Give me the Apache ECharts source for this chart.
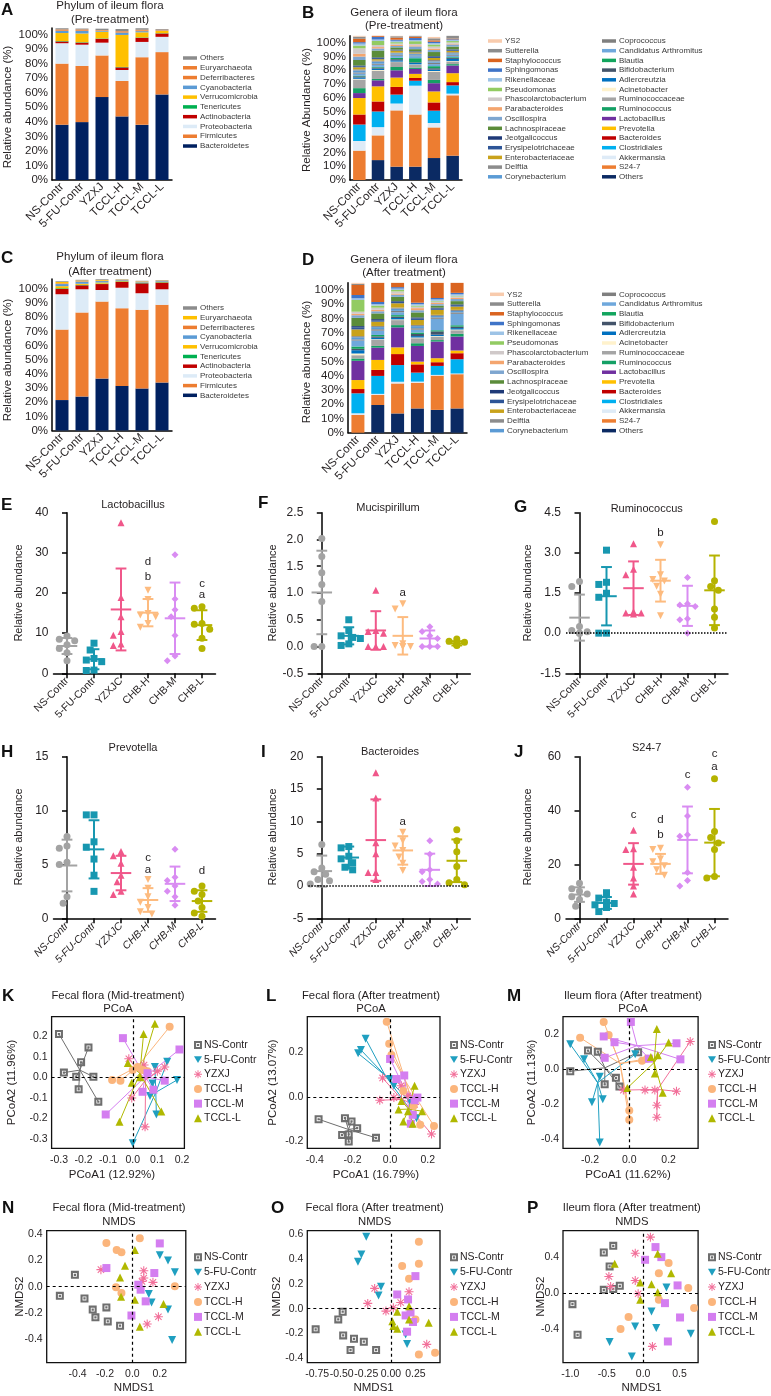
<!DOCTYPE html>
<html><head><meta charset="utf-8">
<script src="https://cdn.jsdelivr.net/npm/echarts@6/dist/echarts.min.js"></script>
<style>
html,body{margin:0;padding:0;background:#fff;}
#root{position:relative;width:771px;height:1396px;overflow:hidden;background:#fff;}
#root>div{position:absolute;left:0;top:0;width:771px;height:1396px;}
</style></head><body><div id="root"></div>
<script>
// ---------------- DATA ----------------
const groupsTCCL = ['NS-Contr','5-FU-Contr','YZXJ','TCCL-H','TCCL-M','TCCL-L'];
const groupsCHB = ['NS-Contr','5-FU-Contr','YZXJC','CHB-H','CHB-M','CHB-L'];

// phylum (stack order bottom -> top)
const phylumNames = ['Bacteroidetes','Firmicutes','Proteobacteria','Actinobacteria','Tenericutes','Verrucomicrobia','Cyanobacteria','Deferribacteres','Euryarchaeota','Others'];
const phylumPre = [
  [38, 39.8, 57, 43.7, 37.9, 58.8],
  [42, 38.6, 28.6, 24.4, 46.5, 29.1],
  [14, 14.6, 8.8, 7.5, 10.5, 10.5],
  [1.2, 1.4, 2.6, 1.8, 2.8, 2.3],
  [0.3, 0.3, 0.3, 0.3, 0.3, 0.2],
  [5.5, 6, 4.6, 22, 3.5, 1.5],
  [1.5, 1.8, 0.5, 1.6, 0.8, 0.3],
  [0.5, 0.5, 0.3, 0.5, 0.5, 0.3],
  [0.5, 0.5, 0.3, 0.5, 0.5, 0.3],
  [0.8, 0.6, 1, 1.5, 1, 0.5]
];
const phylumPost = [
  [21.5, 24, 36.7, 31.5, 29.7, 33.9],
  [49.8, 59.4, 54.4, 54.9, 55.6, 54.9],
  [25, 16.4, 8.2, 14.5, 11.7, 11],
  [3.7, 2.8, 4.2, 4.2, 7, 4.7],
  [0.5, 0.3, 0.3, 0.3, 0.3, 0.3],
  [1.5, 0.8, 0.8, 0.3, 0.3, 0.3],
  [1.5, 1.5, 1, 0.5, 0.5, 0.5],
  [0.5, 0.3, 0.3, 0.2, 0.2, 0.2],
  [1, 0.5, 0.5, 0.2, 0.2, 0.2],
  [0.5, 0.5, 0.5, 0.3, 0.3, 0.3]
];

// genera (stack order bottom -> top)
const genusNames = ['Others','S24-7','Akkermansia','Clostridiales','Bacteroides','Prevotella','Lactobacillus','Ruminococcus','Ruminococcaceae','Acinetobacter','Adlercreutzia','Bifidobacterium','Blautia','Candidatus Arthromitus','Coprococcus','Corynebacterium','Delftia','Enterobacteriaceae','Erysipelotrichaceae','Jeotgalicoccus','Lachnospiraceae','Oscillospira','Parabacteroides','Phascolarctobacterium','Pseudomonas','Rikenellaceae','Sphingomonas','Staphylococcus','Sutterella','YS2'];
const genusPre = [
  [0, 14.5, 9.7, 9.7, 16, 17.7],
  [21.4, 18, 41, 38, 22.3, 44],
  [7, 6, 5, 21, 3.2, 1.2],
  [12, 11.4, 6.5, 3.6, 9, 6],
  [7.3, 7.3, 5.6, 2, 6, 2.4],
  [12, 11, 6.8, 3, 8, 6.5],
  [3.6, 4.4, 5.3, 3.6, 6, 5.6],
  [3.6, 1, 2.4, 1, 2.4, 1],
  [6.3, 6, 3.6, 2, 6, 2],
  [0.5, 0.5, 0.3, 0.3, 0.5, 0.3],
  [1, 1, 1, 1, 1, 1.5],
  [0.8, 0.8, 0.8, 0.5, 1, 0.8],
  [0.5, 0.5, 1, 3, 1.5, 0.5],
  [1.5, 1.5, 1.5, 1.5, 1.5, 1],
  [0.8, 0.8, 0.8, 0.5, 1, 0.8],
  [1.5, 1.5, 1, 1, 1, 1],
  [0.8, 0.8, 0.5, 0.5, 1, 0.8],
  [1.5, 1, 1.5, 0.8, 1.5, 1],
  [0.8, 0.8, 0.5, 0.5, 0.8, 0.8],
  [0.5, 0.5, 0.3, 0.3, 0.5, 0.3],
  [4, 5, 1.5, 1.5, 3, 2],
  [2.5, 1.5, 1, 2, 1.5, 1.5],
  [2, 1, 0.8, 0.8, 1, 0.5],
  [4, 1.5, 1, 1, 1.5, 1],
  [2, 3, 1, 2, 1.5, 1],
  [1.5, 1, 1, 0.8, 1, 0.8],
  [1, 2, 0.8, 1.5, 1, 0.5],
  [2.5, 1.5, 1.5, 1, 1, 0.5],
  [1.5, 0.8, 1, 0.8, 1.5, 2.5],
  [1.5, 0.8, 1, 1.5, 1, 0.5]
];
const genusPost = [
  [0, 19.4, 13.5, 17, 16, 17],
  [12.4, 7, 21, 18, 24, 24],
  [1.2, 0.8, 1.2, 0.8, 0.5, 0.5],
  [14, 12.6, 11.7, 6.3, 6.3, 10],
  [3, 4.2, 7.7, 5.8, 2.6, 4.2],
  [6.3, 7, 4.7, 1.9, 2.8, 1.9],
  [13.5, 8.6, 14, 11, 11.7, 9.8],
  [1.6, 1.2, 1.6, 1.9, 1, 1.9],
  [2.3, 4.2, 3.5, 3.5, 2.3, 2.5],
  [1.2, 0.5, 0.5, 0.5, 0.5, 0.5],
  [2.3, 1, 1, 1, 1, 1],
  [1, 1, 1, 1.5, 2.3, 1],
  [1.6, 1, 1, 1, 0.8, 1],
  [4.2, 3, 2, 2, 8, 8],
  [0.8, 1, 1, 1, 1, 1],
  [1.5, 1.5, 1.5, 1.5, 1, 1],
  [0.8, 0.8, 0.8, 0.8, 0.8, 0.8],
  [4.7, 3, 3, 3.5, 3.5, 2.3],
  [1.5, 1, 1, 1, 1, 1],
  [0.8, 0.8, 0.5, 0.8, 0.5, 0.5],
  [5.8, 4, 3, 3.5, 1.5, 2.3],
  [1.8, 1.5, 1.5, 1.5, 1, 1.5],
  [1, 1, 0.8, 1.5, 0.8, 0.8],
  [1.5, 1.5, 1.5, 1, 1, 1],
  [8.2, 1.5, 1, 0.8, 0.5, 0.5],
  [1.2, 1, 1, 1, 1, 1],
  [2.3, 1.5, 1, 1, 1, 1],
  [7, 14, 3.5, 14, 11, 7],
  [0.8, 0.8, 0.8, 0.8, 0.8, 0.8],
  [1.6, 0.8, 0.5, 0.8, 0.5, 0.5]
];

// dot plots: individual values per group, mean, sd, significance letters [group, y, letter]
const lactoPts = [[9.3,8.5,8.1,7.1,6.2,5.1,3.1],[7.5,5.8,3.7,3.3,2.9,0.8,0.7],[37.5,18.9,14.1,10.4,9.5,7.3,6.9],[20.7,18.4,14.9,14.5,14.1,12.4,11.5],[29.5,18.5,15.8,14.1,9.4,4.3,3.1],[16.6,16.2,12.4,12.2,11.0,8.7,6.2]];
const lactoMean = [6.8,3.5,15.9,15.1,13.7,12.0];
const lactoSd = [2.0,2.5,10.2,3.4,8.9,3.7];
const lactoSig = [[3,27.8,'d'],[3,24.1,'b'],[5,22.4,'c'],[5,19.5,'a']];

const mucPts = [[2.02,1.68,1.38,1.16,0.84,0,0],[0.5,0.3,0.2,0.17,0.15,0.05,0.02],[1.05,0.3,0.28,0.25,0,0,0],[0.8,0.7,0.05,0.02,0,0,0],[0.37,0.28,0.2,0.15,0,0,0],[0.14,0.1,0.08,0.06,0.04,0.03,0.02]];
const mucMean = [1.01,0.2,0.3,0.2,0.15,0.06];
const mucSd = [0.78,0.16,0.36,0.35,0.15,0.04];
const mucSig = [[3,1.0,'a']];

const rumPts = [[1.93,1.74,0.25,0.1,0.05,0,0],[3.1,1.9,1.82,1.49,1.34,0,0],[3.34,2.39,2.18,0.8,0.75,0.75,0.72],[3.3,2.18,2.0,1.95,1.75,1.45,0.65],[2.08,1.1,1.05,1.0,0.54,0.5,0],[4.17,1.96,1.74,1.6,0.9,0.59,0.19]];
const rumMean = [0.58,1.38,1.68,1.96,1.02,1.6];
const rumSd = [0.86,1.09,1.0,0.78,0.75,1.3];
const rumSig = [[3,3.76,'b']];

const prevPts = [[7.6,6.7,6.5,5.2,5.0,2.0,1.4],[9.6,9.6,7.1,6.6,5.5,4.0,2.5],[6.2,5.8,5.1,4.0,3.4,2.5,2.2],[3.6,2.8,2.0,1.5,1.0,0.6,0.4],[6.4,3.8,3.5,3.0,2.5,2.0,1.2],[3.0,2.5,2.2,1.6,1.0,0.5,0.2]];
const prevMean = [4.9,6.4,4.2,1.7,3.2,1.6];
const prevSd = [2.4,2.7,1.6,1.1,1.6,1.0];
const prevSig = [[3,5.6,'c'],[3,4.5,'a'],[5,4.4,'d']];

const bactPts = [[6.4,2.8,2.2,1.8,1.0,0.8,0.3],[6.1,5.9,4.6,4.2,3.6,2.9,2.5],[17.5,13.6,6.7,5.0,2.1,2.1,1.0],[8.3,7.0,6.2,5.5,4.5,3.5,2.4],[7.0,4.9,2.5,2.2,1.0,0.7,0.3],[8.7,7.0,5.3,3.0,1.0,0.5,0.2]];
const bactMean = [2.3,4.4,7.1,5.5,2.5,3.9];
const bactSd = [2.4,1.7,6.3,2.2,2.5,3.3];
const bactSig = [[3,10.0,'a']];

const s24Pts = [[13,11,10,9,8,7,4.5],[9.5,7.5,6,5.5,5,4,2.5],[32.7,25.8,25.5,19,15,12,9],[26,25.5,22,21,19.5,18,16],[48.7,38,31,30.5,17,14,12],[51.8,32.2,30,28,25.5,15.5,15]];
const s24Mean = [8.8,5.7,20.2,20.2,29.1,28.1];
const s24Sd = [2.7,2.2,7.7,3.7,12.4,12.5];
const s24Sig = [[2,38.6,'c'],[3,36.5,'d'],[3,31,'b'],[4,53.3,'c'],[5,61,'c'],[5,56.1,'a']];

// ordination scores [x, y] per group
const kPts = [
 [[-0.30,0.21],[-0.28,0.023],[-0.21,0.073],[-0.18,0.145],[-0.23,0.003],[-0.16,0.003],[-0.22,-0.058],[-0.14,-0.118]],
 [[0.09,0.05],[0.14,0.075],[0.18,-0.013],[0.07,-0.09],[0.096,-0.18],[0.0,-0.32],[0.08,-0.03]],
 [[-0.016,0.09],[0.046,0.06],[0.13,0.05],[-0.004,-0.1],[0.05,-0.24],[0.10,0.03],[0.06,0.02]],
 [[0.15,0.245],[-0.084,-0.013],[-0.05,-0.016],[0.0,0.035],[0.04,0.035],[0.06,0.03],[0.02,0.05]],
 [[-0.04,0.19],[-0.11,-0.18],[0.04,-0.07],[0.084,-0.06],[0.13,-0.016],[0.19,0.135],[0.06,0.02]],
 [[0.09,0.26],[0.044,0.21],[-0.02,0.07],[-0.004,-0.026],[-0.054,-0.215],[0.116,-0.165],[0.03,0.0]]
];
const lPts = [
 [[-0.38,-0.10],[-0.24,-0.095],[-0.205,-0.11],[-0.175,-0.14],[-0.255,-0.17],[-0.22,-0.168],[-0.075,-0.183],[-0.22,-0.2]],
 [[-0.13,0.26],[-0.17,0.195],[-0.155,0.21],[0.0,0.08],[0.11,-0.026],[0.14,-0.095],[0.02,0.05]],
 [[-0.04,0.085],[-0.055,-0.015],[0.02,-0.003],[0.058,0.05],[0.22,-0.166],[0.13,-0.034],[0.095,0.005]],
 [[-0.018,0.336],[-0.005,0.238],[0.007,0.188],[0.233,-0.13],[0.16,-0.125],[0.125,-0.04],[0.07,0.027]],
 [[0.0,0.17],[0.033,0.08],[0.075,0.096],[0.145,-0.003],[0.13,-0.015],[0.12,-0.08],[0.11,-0.12]],
 [[0.13,0.05],[0.06,-0.018],[0.045,-0.056],[0.07,-0.11],[0.12,-0.12],[0.17,-0.064],[0.095,-0.064]]
];
const mPts = [
 [[-0.3,-0.012],[-0.21,0.106],[-0.16,0.1],[-0.125,-0.087],[-0.068,-0.05],[-0.05,-0.1],[0.045,0.096]],
 [[-0.3,0.142],[-0.23,0.056],[-0.15,-0.044],[-0.19,-0.19],[-0.135,-0.173],[0.03,0.085],[-0.15,-0.42]],
 [[0.31,0.158],[-0.03,-0.12],[0.08,-0.12],[0.13,-0.12],[0.24,-0.127],[0.14,-0.207],[0.14,-0.275]],
 [[-0.25,0.18],[-0.13,0.27],[-0.105,0.196],[0.0,-0.237],[0.0,-0.29],[0.065,0.048],[0.09,0.06]],
 [[-0.13,0.187],[-0.075,0.154],[-0.125,0.065],[0.008,0.27],[0.1,0.06],[0.24,0.148],[0.26,0.056]],
 [[0.14,0.23],[0.2,0.152],[0.145,0.08],[0.13,-0.025],[0.17,-0.135],[-0.01,-0.108],[0.11,0.07]]
];
const nPts = [
 [[-0.53,-0.07],[-0.42,0.09],[-0.35,-0.09],[-0.29,-0.175],[-0.27,-0.234],[-0.19,-0.158],[-0.18,-0.265],[-0.09,-0.298]],
 [[0.2,0.24],[0.26,0.2],[0.31,0.11],[0.14,-0.12],[0.26,-0.175],[0.29,-0.407],[0.12,-0.056]],
 [[-0.23,0.13],[0.083,0.122],[0.083,0.066],[0.15,0.033],[0.19,-0.229],[0.108,-0.285],[0.07,0.04]],
 [[-0.19,0.333],[-0.115,0.28],[-0.08,0.262],[0.054,0.369],[-0.12,-0.005],[-0.08,-0.048],[0.31,0.003]],
 [[-0.19,0.142],[0.2,0.33],[0.16,0.104],[0.043,0.015],[0.06,-0.023],[0.097,-0.112],[-0.007,-0.22]],
 [[0.018,0.28],[-0.054,0.16],[-0.09,0.07],[-0.083,-0.076],[0.018,-0.1],[0.227,-0.132],[0.054,-0.305]]
];
const oPts = [
 [[-0.765,-0.166],[-0.535,-0.086],[-0.49,-0.024],[-0.485,-0.215],[-0.375,-0.242],[-0.275,-0.266],[-0.41,-0.333],[-0.15,-0.333]],
 [[-0.25,0.58],[-0.3,0.437],[-0.335,0.379],[-0.1,0.177],[-0.125,0.107],[0.15,-0.207],[0.165,-0.285]],
 [[-0.165,0.164],[-0.235,0.043],[-0.05,-0.019],[0.025,0.008],[0.185,0.137],[0.365,-0.287],[0.1,0.05]],
 [[0.285,0.54],[0.285,0.362],[0.115,0.344],[0.185,0.242],[0.25,-0.086],[0.285,-0.368],[0.45,-0.354]],
 [[0.25,0.263],[0.065,0.115],[0.175,0.075],[0.15,-0.054],[0.2,-0.03],[0.225,-0.107],[0.165,-0.185]],
 [[0.185,0.021],[0.065,-0.024],[0.015,-0.1],[0.065,-0.161],[0.185,-0.086],[0.385,-0.113],[0.025,-0.14]]
];
const pPts = [
 [[-0.97,-0.123],[-0.9,-0.465],[-0.54,0.454],[-0.41,0.528],[-0.46,0.298],[-0.54,0.037],[-0.41,0.045],[-0.32,0.082]],
 [[-0.46,-0.547],[-0.155,-0.707],[-0.11,-0.372],[0.115,-0.205],[0.18,-0.39],[0.32,0.063],[0.655,-0.454]],
 [[0.1,0.625],[-0.108,0.446],[-0.47,0.186],[-0.446,0.074],[-0.108,0.141],[-0.068,-0.007],[0.128,-0.595]],
 [[0.35,0.335],[0.216,0.223],[0.216,-0.074],[0.62,0.056],[0.7,-0.167],[-0.2,-0.268],[-0.31,-0.4]],
 [[0.17,0.514],[0.25,0.402],[0.027,0.372],[0.473,0.086],[0.3,-0.112],[0.507,-0.272],[0.34,-0.54]],
 [[-0.39,0.327],[0.2,0.44],[0.385,0.223],[-0.04,0.119],[0.115,0.1],[0.2,0.011],[-0.04,-0.074]]
];

// ---------------- STYLE ----------------
const FONT = "'Liberation Sans', Arial, sans-serif";
const INK = '#231f20';
const phylumColorsPre = ['#002060','#ED7D31','#DDEBF7','#C00000','#00B050','#FFC000','#5B9BD5','#ED7D31','#ED7D31','#8C8C8C'];
const phylumColorsPost = ['#002060','#ED7D31','#DDEBF7','#C00000','#00B050','#FFC000','#5B9BD5','#ED7D31','#FFC000','#8C8C8C'];
const genusColors = ['#0B2A63','#ED7D31','#DEEBF7','#00B0F0','#C00000','#FFC000','#7030A0','#14A065','#A5A5A5','#FFF2CC','#0070C0','#44546A','#12A55E','#6FA8DC','#7F7F7F','#5B9BD5','#8C8C8C','#C9A21B','#2E5597','#1F3A78','#5B8C3A','#7EA6D0','#F4A56E','#D0C9C9','#92CB62','#9DC3E6','#3F74C8','#DA6420','#8C8C8C','#F8CBAD'];
const dotColors = ['#a3a3a3','#1797b0','#f0578a','#fdbb7f','#d98cf2','#b5b300'];
const ordColors = ['#6e6e6e','#1f9fc0','#f2709a','#fbb57c','#d47ef0','#b0b800'];
const INV_TRI = 'path://M0,0L10,0L5,8.66Z';
const ASTER = 'path://M-1,-0.12L1,-0.12L1,0.12L-1,0.12Z M-0.12,-1L0.12,-1L0.12,1L-0.12,1Z M-0.79,-0.62L-0.62,-0.79L0.79,0.62L0.62,0.79Z M0.62,-0.79L0.79,-0.62L-0.62,0.79L-0.79,0.62Z';
const NSBOX = 'path://M0,0L10,0L10,10L0,10Z M2.6,2.6L2.6,7.4L7.4,7.4L7.4,2.6Z M3.6,3.6L6.4,3.6L6.4,6.4L3.6,6.4Z';
const dotSymbols = ['circle','rect','triangle',INV_TRI,'diamond','circle'];
const ordSymbols = [NSBOX, INV_TRI, ASTER, 'circle', 'rect', 'triangle'];

// ---------------- HELPERS ----------------
const root = document.getElementById('root');
function mk(){ const d=document.createElement('div'); root.appendChild(d); return echarts.init(d,null,{renderer:'canvas'}); }
function txt(x,y,s,o){ o=o||{}; const al=o.align||'center', va=o.valign||'middle';
  return {type:'text', x:x, y:y, rotation:o.rot||0, silent:true, z:100,
    style:{text:s, fill:o.color||INK, fontSize:o.size||11.5, fontFamily:o.family||FONT, fontWeight:o.weight||'normal', fontStyle:o.style||'normal',
      align:al, verticalAlign:va, textAlign:al, textVerticalAlign:va}}; }
function letter(x,y,s){ return txt(x,y,s,{size:17,weight:'bold',align:'left',color:'#111'}); }

function stackPanel(c){
  const ch = mk();
  const pxPer = (c.y0 - c.y100)/100;
  const top = c.y0 - pxPer*c.ymax;
  const series = c.names.map((n,i)=>({name:n, type:'bar', stack:'s', data:c.data[i], barWidth:c.barW,
    itemStyle:{color:c.colors[i]}, emphasis:{disabled:true}}));
  const legends = c.legends.map(L=>({orient:'vertical', left:L.x, top:L.y - c.pitch/2, padding:0, itemGap:0,
    itemWidth:14, itemHeight:3.5, icon:'rect', selectedMode:false, data:L.names,
    textStyle:{fontSize:c.lfs, fontFamily:FONT, color:'#3a3a3a', lineHeight:c.pitch, padding:[0,0,0,-2]}}));
  const ticks=[]; for(let v=0; v<=100; v+=10) ticks.push(v);
  ch.setOption({animation:false,
    grid:{left:c.gl, width:c.gr-c.gl, top:top, height:c.y0-top},
    xAxis:{type:'category', data:groupsTCCL, axisLine:{lineStyle:{color:'#000',width:1.5}}, axisTick:{show:false},
      axisLabel:{rotate:45, interval:0, fontSize:11.5, fontFamily:FONT, color:INK, margin:5}},
    yAxis:{type:'value', min:0, max:c.ymax, splitLine:{show:false}, axisTick:{show:false},
      axisLine:{show:true, lineStyle:{color:'#000',width:1.5}},
      axisLabel:{customValues:ticks, formatter:'{value}%', fontSize:11.5, fontFamily:FONT, color:INK, margin:4}},
    legend:legends, series:series,
    graphic:c.texts});
}

function swarm(vals, gi, pxPerUnit, catW, s){
  const order = vals.map((v,i)=>i).sort((a,b)=>vals[b]-vals[a]);
  const placed=[]; const out=[];
  order.forEach(i=>{
    const y = vals[i]*pxPerUnit;
    const cands=[0,-1,1,-2,2,-3,3];
    let off=0;
    for(const k of cands){ const x=k*s*0.55; let ok=true;
      for(const p of placed){ if(Math.hypot(p[0]-x,p[1]-y) < s*1.0){ ok=false; break; } }
      if(ok){ off=x; break; } }
    placed.push([off,y]);
    out.push([gi + off/catW, vals[i]]);
  });
  return out;
}

function dotPanel(c){
  const ch = mk();
  const catW = (c.gr-c.gl)/6;
  const pyu = (c.gb-c.gt)/(c.ymax-c.ymin);
  const S = 7;
  const series = c.pts.map((vals,gi)=>({type:'scatter', data:swarm(vals,gi,pyu,catW,S), symbol:dotSymbols[gi], symbolSize:S,
    itemStyle:{color:dotColors[gi], opacity:1}, z:2, emphasis:{disabled:true}, silent:true}));
  const err = {type:'custom', z:3, silent:true, clip:false,
    data:c.mean.map((m,i)=>[i,m,c.sd[i]]), encode:{x:0,y:1},
    renderItem:function(p,api){ const gi=api.value(0), m=api.value(1), sd=api.value(2);
      const c0=api.coord([gi,m]), t=api.coord([gi,m+sd]), b=api.coord([gi,m-sd]); const cw=api.size([1,0])[0];
      const st={stroke:dotColors[gi], lineWidth:2, fill:null};
      return {type:'group', children:[
        {type:'line', shape:{x1:c0[0]-cw*0.38,y1:c0[1],x2:c0[0]+cw*0.38,y2:c0[1]}, style:st},
        {type:'line', shape:{x1:c0[0],y1:t[1],x2:c0[0],y2:b[1]}, style:st},
        {type:'line', shape:{x1:c0[0]-cw*0.2,y1:t[1],x2:c0[0]+cw*0.2,y2:t[1]}, style:st},
        {type:'line', shape:{x1:c0[0]-cw*0.2,y1:b[1],x2:c0[0]+cw*0.2,y2:b[1]}, style:st}]}; }};
  if(c.zero){ err.markLine={silent:true, symbol:'none', label:{show:false}, lineStyle:{type:'dotted', color:'#000', width:1.5}, data:[{yAxis:0}]}; }
  const sig = {type:'custom', z:4, silent:true, clip:false, data:c.sig.map(s=>[s[0],s[1]]), encode:{x:0,y:1},
    renderItem:function(p,api){ const pt=api.coord([api.value(0),api.value(1)]);
      return {type:'text', x:pt[0], y:pt[1], style:{text:c.sig[p.dataIndex][2], fill:INK, fontSize:11.5, fontFamily:FONT, align:'center', verticalAlign:'middle', textAlign:'center', textVerticalAlign:'middle'}}; }};
  const idx=[0,1,2,3,4,5];
  ch.setOption({animation:false,
    grid:{left:c.gl, width:c.gr-c.gl, top:c.gt, height:c.gb-c.gt},
    xAxis:{type:'value', min:-0.5, max:5.5, splitLine:{show:false},
      axisLine:{onZero:false, lineStyle:{color:'#000',width:1.5}},
      axisTick:{customValues:idx, length:5, lineStyle:{color:'#000',width:1.5}},
      axisLabel:{customValues:idx, formatter:v=>groupsCHB[Math.round(v)], rotate:45, fontSize:10.5, fontFamily:FONT, color:INK, margin:6, fontStyle:c.italic?'italic':'normal'}},
    yAxis:{type:'value', min:c.ymin, max:c.ymax, interval:c.yint, splitLine:{show:false},
      axisLine:{show:true, lineStyle:{color:'#000',width:1.5}},
      axisTick:{show:true, length:5, lineStyle:{color:'#000',width:1.5}},
      axisLabel:{fontSize:12, fontFamily:FONT, color:INK, margin:5, formatter:c.yfmt||null}},
    series: series.concat([err, sig]),
    graphic:c.texts});
}

function ordPanel(c){
  const ch = mk();
  const series=[];
  if(c.spider){
    c.pts.forEach((pts,gi)=>{ const cx=pts.reduce((a,p)=>a+p[0],0)/pts.length, cy=pts.reduce((a,p)=>a+p[1],0)/pts.length;
      series.push({type:'lines', coordinateSystem:'cartesian2d', silent:true, z:1,
        data:pts.map(p=>({coords:[p,[cx,cy]]})), lineStyle:{color:ordColors[gi], width:1, opacity:1}}); });
  }
  c.pts.forEach((pts,gi)=>{ series.push({type:'scatter', name:groupsTCCL[gi], data:pts, symbol:ordSymbols[gi], symbolSize: gi===2?9:8,
    itemStyle:{color:ordColors[gi], opacity:1}, z:3, silent:true}); });
  series.push({type:'scatter', data:[], silent:true, markLine:{silent:true, symbol:'none', label:{show:false}, animation:false,
    lineStyle:{type:[3,3], color:'#000', width:1.2}, data:[{xAxis:0},{yAxis:0}]}});
  ch.setOption({animation:false,
    grid:{left:c.gl, width:c.gr-c.gl, top:c.gt, height:c.gb-c.gt, show:true, borderColor:'#111', borderWidth:1.3, backgroundColor:'transparent'},
    xAxis:{type:'value', min:c.xmin, max:c.xmax, splitLine:{show:false}, axisLine:{show:false}, axisTick:{show:false},
      axisLabel:{customValues:c.xt, formatter:c.xfmt||(v=>v.toFixed(1)), fontSize:10.5, fontFamily:FONT, color:INK, margin:6}},
    yAxis:{type:'value', min:c.ymin, max:c.ymax, splitLine:{show:false}, axisLine:{show:false}, axisTick:{show:false},
      axisLabel:{customValues:c.yt, formatter:v=>v.toFixed(1), fontSize:10.5, fontFamily:FONT, color:INK, margin:4}},
    legend:{orient:'vertical', left:c.lx, top:c.ly - c.lp/2, padding:0, itemGap:0, itemWidth:8, itemHeight:8, selectedMode:false,
      data:groupsTCCL, textStyle:{fontSize:10.5, fontFamily:FONT, color:INK, lineHeight:c.lp, padding:[0,0,0,-3]}},
    series:series, graphic:c.texts});
}

// ---------------- PANELS ----------------
stackPanel({gl:52, gr:172, y0:180, y100:34.5, ymax:104.5, barW:13, names:phylumNames, colors:phylumColorsPre, data:phylumPre,
  pitch:9.78, lfs:8, legends:[{x:183, y:58, names:phylumNames.slice().reverse()}],
  texts:[letter(1,10,'A'), txt(110,6,'Phylum of ileum flora'), txt(110,19.5,'(Pre-treatment)'),
    txt(8,107,'Relative abundance (%)',{rot:Math.PI/2})]});

stackPanel({gl:350, gr:462, y0:180, y100:42.7, ymax:105, barW:12.5, names:genusNames, colors:genusColors, data:genusPre,
  pitch:9.7, lfs:8, legends:[{x:488, y:41, names:genusNames.slice(15).reverse()},{x:602, y:41, names:genusNames.slice(0,15).reverse()}],
  texts:[letter(302,13,'B'), txt(404,12.7,'Genera of ileum flora'), txt(404,25.5,'(Pre-treatment)'),
    txt(307,110,'Relative Abundance (%)',{rot:Math.PI/2})]});

stackPanel({gl:52, gr:172, y0:430.5, y100:289, ymax:107, barW:13, names:phylumNames, colors:phylumColorsPost, data:phylumPost,
  pitch:9.7, lfs:8, legends:[{x:183, y:308, names:phylumNames.slice().reverse()}],
  texts:[letter(1,258,'C'), txt(110,257.3,'Phylum of ileum flora'), txt(110,271.7,'(After treatment)'),
    txt(8,360,'Relative abundance (%)',{rot:Math.PI/2})]});

stackPanel({gl:348, gr:467, y0:432.7, y100:290, ymax:105, barW:13, names:genusNames, colors:genusColors, data:genusPost,
  pitch:9.74, lfs:8, legends:[{x:490, y:294.3, names:genusNames.slice(15).reverse()},{x:602, y:294.3, names:genusNames.slice(0,15).reverse()}],
  texts:[letter(302,260,'D'), txt(404,260,'Genera of ileum flora'), txt(404,273.3,'(After treatment)'),
    txt(307,362,'Relative abundance (%)',{rot:Math.PI/2})]});

const E_T=512.7, E_B=673.3, H_T=756.7, H_B=918.3;
dotPanel({gl:53.5, gr:215.5, gt:E_T, gb:E_B, ymin:0, ymax:40, yint:10, pts:lactoPts, mean:lactoMean, sd:lactoSd, sig:lactoSig,
  texts:[letter(1,505,'E'), txt(133,505,'Lactobacillus',{size:11}), txt(19,593,'Relative abundance',{rot:Math.PI/2,size:11})]});
dotPanel({gl:308.3, gr:470.3, gt:E_T, gb:E_B, ymin:-0.5, ymax:2.5, yint:0.5, pts:mucPts, mean:mucMean, sd:mucSd, sig:mucSig, yfmt:v=>v.toFixed(1),
  texts:[letter(258,503,'F'), txt(388,508,'Mucispirillum',{size:11}), txt(273,593,'Relative abundance',{rot:Math.PI/2,size:11})]});
dotPanel({gl:566, gr:728, gt:E_T, gb:E_B, ymin:-1.5, ymax:4.5, yint:1.5, pts:rumPts, mean:rumMean, sd:rumSd, sig:rumSig, zero:true, yfmt:v=>v.toFixed(1),
  texts:[letter(514,507,'G'), txt(646.7,509,'Ruminococcus',{size:11}), txt(528,593,'Relative abundance',{rot:Math.PI/2,size:11})]});
dotPanel({gl:53.5, gr:215.5, gt:H_T, gb:H_B, ymin:0, ymax:15, yint:5, pts:prevPts, mean:prevMean, sd:prevSd, sig:prevSig, italic:true,
  texts:[letter(1,752,'H'), txt(133,748,'Prevotella',{size:11}), txt(19,837,'Relative abundance',{rot:Math.PI/2,size:11})]});
dotPanel({gl:308.3, gr:470.3, gt:H_T, gb:H_B, ymin:-5, ymax:20, yint:5, pts:bactPts, mean:bactMean, sd:bactSd, sig:bactSig, zero:true, italic:true,
  texts:[letter(261,752,'I'), txt(390,752,'Bacteroides',{size:11}), txt(273,837,'Relative abundance',{rot:Math.PI/2,size:11})]});
dotPanel({gl:566, gr:728, gt:H_T, gb:H_B, ymin:0, ymax:60, yint:20, pts:s24Pts, mean:s24Mean, sd:s24Sd, sig:s24Sig, italic:true,
  texts:[letter(514,752,'J'), txt(646.7,748,'S24-7',{size:11}), txt(528,837,'Relative abundance',{rot:Math.PI/2,size:11})]});

const K_T=1016.7, K_B=1148.3, N_T=1230.7, N_B=1362.7;
function ordTexts(L, lx, cx, ty, title, sub, yname, ynx, xname, xnx, xny, cy){
  return [letter(lx, ty, L), txt(cx, ty, title,{size:11.3}), txt(cx, ty+13.3, sub,{size:11.3}),
    txt(ynx, cy, yname, {rot:Math.PI/2, size:11.5}), txt(xnx, xny, xname, {size:11.5})];
}
ordPanel({gl:51.6, gr:184.4, gt:K_T, gb:K_B, xmin:-0.33, xmax:0.21, ymin:-0.344, ymax:0.294,
  xt:[-0.3,-0.2,-0.1,0,0.1,0.2], yt:[-0.3,-0.2,-0.1,0,0.1,0.2], pts:kPts, spider:true, lx:194, ly:1045, lp:14.66,
  texts:ordTexts('K',2,118,996,'Fecal flora (Mid-treatment)','PCoA','PCoA2 (11.96%)',12,'PCoA1 (12.92%)',112,1175,1082.5)});
ordPanel({gl:307.3, gr:440, gt:K_T, gb:K_B, xmin:-0.44, xmax:0.265, ymin:-0.23, ymax:0.359,
  xt:[-0.4,-0.2,0,0.2], yt:[-0.2,0,0.2], pts:lPts, spider:true, lx:450, ly:1045, lp:14.66,
  texts:ordTexts('L',266,371,996,'Fecal flora (After treatment)','PCoA','PCoA2 (13.07%)',273,'PCoA1 (16.79%)',376,1175,1082.5)});
ordPanel({gl:563, gr:698.1, gt:K_T, gb:K_B, xmin:-0.337, xmax:0.35, ymin:-0.453, ymax:0.30,
  xt:[-0.2,0,0.2], yt:[-0.4,-0.2,0,0.2], pts:mPts, spider:true, lx:708, ly:1045, lp:14.66,
  texts:ordTexts('M',507,633,996,'Ileum flora (After treatment)','PCoA','PCoA2 (11.13%)',532,'PCoA1 (11.62%)',628,1175,1082.5)});
ordPanel({gl:46.7, gr:185.8, gt:N_T, gb:N_B, xmin:-0.626, xmax:0.39, ymin:-0.58, ymax:0.427,
  xt:[-0.4,-0.2,0,0.2], yt:[-0.4,-0.2,0,0.2,0.4], pts:nPts, spider:false, lx:194, ly:1257.3, lp:14.9,
  texts:ordTexts('N',2,119,1208.3,'Fecal flora (Mid-treatment)','NMDS','NMDS2',20,'NMDS1',134,1388,1296.7)});
ordPanel({gl:307.3, gr:440, gt:N_T, gb:N_B, xmin:-0.85, xmax:0.5, ymin:-0.435, ymax:0.629,
  xt:[-0.75,-0.5,-0.25,0,0.25], xfmt:v=>v.toFixed(2), yt:[-0.4,-0.2,0,0.2,0.4,0.6], pts:oPts, spider:false, lx:450, ly:1257.3, lp:14.9,
  texts:ordTexts('O',271,374.6,1208.3,'Fecal flora (After treatment)','NMDS','NMDS2',277,'NMDS1',373.6,1388,1296.7)});
ordPanel({gl:563, gr:698.1, gt:N_T, gb:N_B, xmin:-1.1, xmax:0.755, ymin:-0.777, ymax:0.697,
  xt:[-1,-0.5,0,0.5], yt:[-0.4,0,0.4], pts:pPts, spider:false, lx:708, ly:1257.3, lp:14.9,
  texts:ordTexts('P',527,631.8,1208.3,'Ileum flora (After treatment)','NMDS','NMDS2',541,'NMDS1',641.6,1388,1296.7)});
</script></body></html>
